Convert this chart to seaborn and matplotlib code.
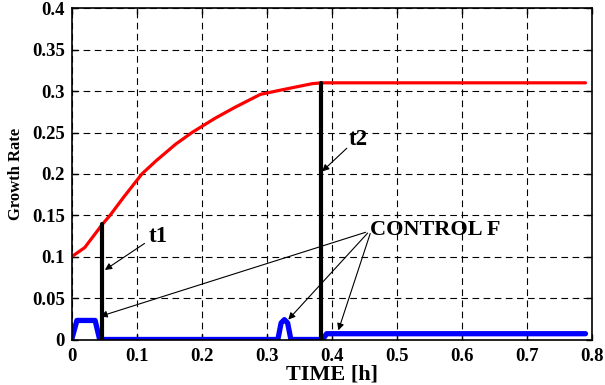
import matplotlib
matplotlib.use("Agg")
from matplotlib import pyplot as plt
from matplotlib.ticker import FormatStrFormatter
import seaborn as sns
import pandas as pd
import numpy as np

# growth rate (red)
rateTime = [0, 0.02, 0.047, 0.059, 0.08, 0.108, 0.13, 0.16, 0.185, 0.22, 0.25, 0.29, 0.32, 0.345, 0.37, 0.385, 0.79]
rateValue = [0.1, 0.111, 0.139, 0.15, 0.172, 0.2, 0.216, 0.236, 0.25, 0.267, 0.28, 0.296, 0.301, 0.305, 0.309, 0.31, 0.31]

# control F (blue)
ctrlTime = [0, 0.008, 0.036, 0.043, 0.317, 0.322, 0.327, 0.332, 0.337, 0.386, 0.392, 0.79]
ctrlValue = [0, 0.023, 0.023, 0, 0, 0.02, 0.024, 0.02, 0, 0, 0.007, 0.007]

# switching instants (black)
t1Time = [0.047, 0.047]
t1Value = [0, 0.139]
t2Time = [0.383, 0.383]
t2Value = [0, 0.31]

xTicks = [0, 0.1, 0.2, 0.3, 0.4, 0.5, 0.6, 0.7, 0.8]
yTicks = [0, 0.05, 0.1, 0.15, 0.2, 0.25, 0.3, 0.35, 0.4]

sns.set_style("ticks")
plt.rcParams['font.family'] = ['Liberation Serif', 'DejaVu Serif']
plt.rcParams['font.weight'] = 'bold'
plt.rcParams['text.color'] = 'black'
plt.rcParams['axes.labelcolor'] = 'black'

fig = plt.figure(figsize=(6.05, 3.85), dpi=100)
ax = fig.add_axes([71.7 / 605, 1 - 339.5 / 385, (592 - 71.7) / 605, (339.5 - 8.3) / 385])

rateDf = pd.DataFrame({'t': rateTime, 'v': rateValue})
ctrlDf = pd.DataFrame({'t': ctrlTime, 'v': ctrlValue})
sns.lineplot(data=rateDf, x='t', y='v', ax=ax, color=(1, 0, 0), linewidth=2.3, estimator=None, sort=False)
sns.lineplot(data=ctrlDf, x='t', y='v', ax=ax, color=(0, 0, 1), linewidth=3.8, estimator=None, sort=False)
sns.lineplot(x=t1Time, y=t1Value, ax=ax, color='black', linewidth=3, estimator=None, sort=False)
sns.lineplot(x=t2Time, y=t2Value, ax=ax, color='black', linewidth=3, estimator=None, sort=False)

ax.set_xlim(0, 0.8)
ax.set_ylim(0, 0.4)
ax.set_xticks(xTicks)
ax.set_yticks(yTicks)
ax.xaxis.set_major_formatter(FormatStrFormatter('%g'))
ax.yaxis.set_major_formatter(FormatStrFormatter('%g'))
ax.tick_params(direction='in', length=4, width=1, labelsize=13.5, top=True, right=True, colors='black')
ax.tick_params(axis='x', pad=6)
ax.tick_params(axis='y', pad=5)
for lab in ax.get_xticklabels() + ax.get_yticklabels():
    lab.set_fontweight('bold')
ax.grid(True, color='black', linestyle=(0, (6, 4)), linewidth=0.8)
for sp in ax.spines.values():
    sp.set_visible(True)
    sp.set_color('black')
    sp.set_linewidth(1.2)

ax.set_xlabel('TIME [h]', fontsize=16, fontweight='bold', labelpad=0)
ax.set_ylabel('Growth Rate', fontsize=12, fontweight='bold', labelpad=6)

# labels and arrows
arrow = dict(arrowstyle='-|>', color='black', linewidth=0.8, mutation_scale=10, shrinkA=0, shrinkB=0)
ax.text(0.133, 0.124, 't1', fontsize=16.5, fontweight='bold', ha='center', va='center')
ax.annotate('', xy=(0.051, 0.084), xytext=(0.112, 0.116), arrowprops=arrow)
ax.text(0.44, 0.241, 't2', fontsize=16.5, fontweight='bold', ha='center', va='center')
ax.annotate('', xy=(0.385, 0.203), xytext=(0.423, 0.231), arrowprops=arrow)
ax.text(0.459, 0.132, 'CONTROL F', fontsize=16, fontweight='bold', ha='left', va='center')
ax.annotate('', xy=(0.044, 0.028), xytext=(0.452, 0.1295), arrowprops=arrow)
ax.annotate('', xy=(0.333, 0.024), xytext=(0.455, 0.1285), arrowprops=arrow)
ax.annotate('', xy=(0.41, 0.011), xytext=(0.459, 0.128), arrowprops=arrow)

fig.savefig('out.png', dpi=100)
